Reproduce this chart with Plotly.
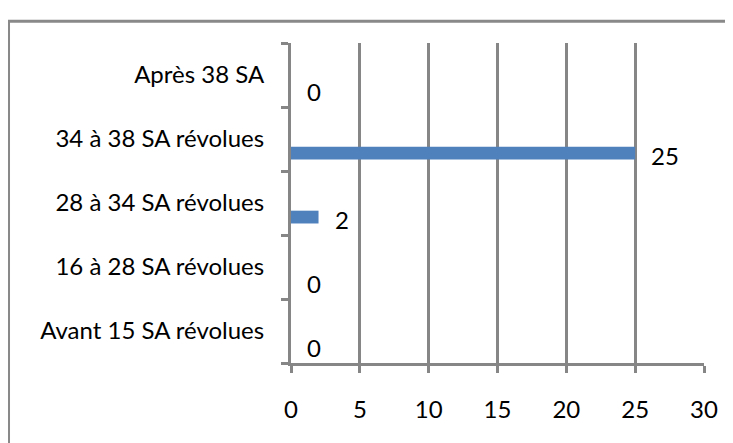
import plotly.graph_objects as go

categories = [
    "Avant 15 SA révolues",
    "16 à 28 SA révolues",
    "28 à 34 SA révolues",
    "34 à 38 SA révolues",
    "Après 38 SA",
]
values = [0, 0, 2, 25, 0]
x_ticks = [0, 5, 10, 15, 20, 25, 30]

grey = "#868686"
font = dict(family="Lato, Arial, sans-serif", size=24, color="#000000")

fig = go.Figure()
fig.add_trace(
    go.Bar(
        x=values,
        y=categories,
        orientation="h",
        marker=dict(color="#4f81bd", line=dict(width=0)),
        width=0.2,
        offset=-0.32,
        hoverinfo="x+y",
    )
)

# value labels to the right of each bar (Excel style)
for cat, val in zip(categories, values):
    fig.add_annotation(
        x=val, y=cat, text=str(val), showarrow=False,
        xanchor="left", yanchor="middle", xshift=14, yshift=-16,
        font=font,
    )

# outer chart border
fig.add_shape(
    type="rect", xref="paper", yref="paper",
    x0=-0.684, x1=1.2, y0=-0.4, y1=1.068,
    line=dict(color="#898989", width=3), fillcolor="rgba(0,0,0,0)",
)

fig.update_xaxes(
    range=[0, 30],
    tickvals=x_ticks,
    showgrid=True, gridcolor=grey, gridwidth=3,
    showline=True, linecolor=grey, linewidth=3,
    ticks="outside", ticklen=7, tickwidth=3, tickcolor=grey,
    ticklabelstandoff=16,
    zeroline=False,
    tickfont=font,
)
fig.update_yaxes(
    type="category",
    categoryorder="array", categoryarray=categories,
    range=[-0.5, 4.5],
    showgrid=False,
    showline=True, linecolor=grey, linewidth=3,
    ticks="outside", tickson="boundaries", ticklen=7, tickwidth=3, tickcolor=grey,
    ticklabelstandoff=19,
    tickfont=font,
)
fig.update_layout(
    width=733, height=443,
    margin=dict(l=283, r=37, t=35, b=88),
    plot_bgcolor="white", paper_bgcolor="white",
    showlegend=False,
)
fig.write_html("out.html")
